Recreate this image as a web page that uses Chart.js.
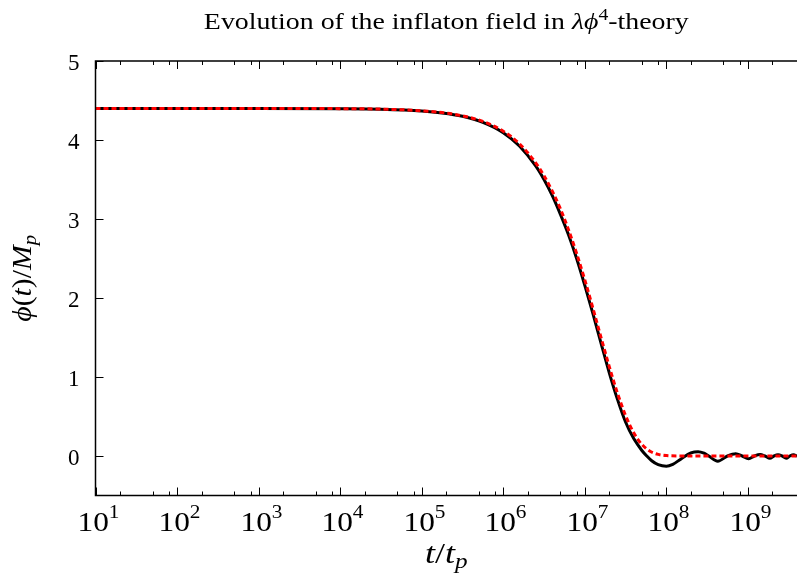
<!DOCTYPE html>
<html>
<head>
<meta charset="utf-8">
<title>Evolution of the inflaton field</title>
<script src="https://cdn.jsdelivr.net/npm/chart.js@4"></script>
<style>
  body { margin: 0; background: #fff; }
  canvas { display: block; }
</style>
</head>
<body>
<canvas id="inflatonChart" width="798" height="574"></canvas>
<script>
// DATA
const tNumeric = [1e1, 1e2, 1e3, 1e4, 3.16e4, 1e5, 1.78e5, 3.16e5, 5.62e5, 1e6, 1.58e6, 2.51e6, 3.16e6, 3.98e6, 5.01e6, 6.31e6, 7.94e6, 1e7, 1.26e7, 1.58e7, 2.0e7, 2.51e7, 3.16e7, 3.98e7, 5.01e7, 5.75e7, 6.61e7, 7.94e7, 1e8, 1.2e8, 1.5e8, 2.0e8, 2.45e8, 2.9e8, 3.31e8, 4.27e8, 5.62e8, 7.08e8, 8.51e8, 1.02e9, 1.2e9, 1.41e9, 1.62e9, 1.86e9, 2.09e9, 2.34e9, 2.63e9, 2.95e9, 3.27e9, 3.63e9, 4.0e9];
const phiNumeric = [4.40, 4.40, 4.40, 4.397, 4.390, 4.368, 4.343, 4.300, 4.224, 4.093, 3.924, 3.668, 3.499, 3.298, 3.061, 2.80, 2.50, 2.16, 1.80, 1.43, 1.05, 0.72, 0.43, 0.22, 0.07, 0.0, -0.06, -0.11, -0.13, -0.105, -0.04, 0.039, 0.055, 0.035, 0.0, -0.066, 0.0, 0.028, 0.0, -0.035, 0.0, 0.02, 0.0, -0.03, 0.0, 0.015, 0.0, -0.028, 0.0, 0.015, 0.0];

const tApprox = [1e1, 1e2, 1e3, 1e4, 3.16e4, 1e5, 1.78e5, 3.16e5, 5.62e5, 1e6, 1.58e6, 2.51e6, 3.16e6, 3.98e6, 5.01e6, 6.31e6, 7.94e6, 1e7, 1.26e7, 1.58e7, 2.0e7, 2.51e7, 3.16e7, 3.98e7, 5.01e7, 6.31e7, 7.94e7, 1e8, 1.58e8, 4.0e9];
const phiApprox = [4.40, 4.40, 4.40, 4.397, 4.391, 4.370, 4.347, 4.306, 4.235, 4.111, 3.952, 3.708, 3.548, 3.355, 3.131, 2.864, 2.564, 2.229, 1.867, 1.502, 1.128, 0.798, 0.513, 0.294, 0.146, 0.060, 0.020, 0.005, 0.0, 0.0];

const xMajorExp = [1, 2, 3, 4, 5, 6, 7, 8, 9];
const xMinorMult = [2, 5, 8];
const yTicks = [0, 1, 2, 3, 4, 5];

const SERIF = "'Liberation Serif', 'DejaVu Serif', serif";

function toPoints(xs, ys) { return xs.map((x, i) => ({ x: x, y: ys[i] })); }

// draw a line of mixed text pieces {t, f, dy}, stretched by sx
function drawRich(ctx, parts, x, y, align, sx) {
    sx = sx || 1;
    let w = 0;
    parts.forEach(p => { ctx.font = p.f; p.w = ctx.measureText(p.t).width; w += p.w; });
    const start = align === 'right' ? -w : (align === 'left' ? 0 : -w / 2);
    ctx.save();
    ctx.translate(x, y);
    ctx.scale(sx, 1);
    ctx.textAlign = 'left';
    ctx.textBaseline = 'alphabetic';
    let cx = start;
    parts.forEach(p => { ctx.font = p.f; ctx.fillText(p.t, cx, p.dy || 0); cx += p.w; });
    ctx.restore();
}

// gnuplot style frame, inward ticks and labels
const gnuplotFrame = {
    id: 'gnuplotFrame',
    afterDatasetsDraw(chart) {
        const ctx = chart.ctx, a = chart.chartArea;
        const xs = chart.scales.x, ys = chart.scales.y;
        ctx.save();
        ctx.strokeStyle = '#000';
        ctx.fillStyle = '#000';
        ctx.lineWidth = 1.5;

        // border: left, top, bottom
        ctx.beginPath();
        ctx.moveTo(a.right, a.top); ctx.lineTo(a.left, a.top);
        ctx.lineTo(a.left, a.bottom); ctx.lineTo(a.right, a.bottom);
        ctx.stroke();

        ctx.lineWidth = 1;
        // x ticks
        xMajorExp.forEach(e => {
            const px = Math.round(xs.getPixelForValue(Math.pow(10, e))) + 0.5;
            ctx.beginPath();
            ctx.moveTo(px, a.bottom); ctx.lineTo(px, a.bottom - 8);
            ctx.moveTo(px, a.top); ctx.lineTo(px, a.top + 8);
            ctx.stroke();
            xMinorMult.forEach(m => {
                const v = m * Math.pow(10, e);
                if (v > xs.max) return;
                const qx = Math.round(xs.getPixelForValue(v)) + 0.5;
                ctx.beginPath();
                ctx.moveTo(qx, a.bottom); ctx.lineTo(qx, a.bottom - 4);
                ctx.moveTo(qx, a.top); ctx.lineTo(qx, a.top + 4);
                ctx.stroke();
            });
            // label 10^e
            drawRich(ctx, [
                { t: '10', f: '28px ' + SERIF },
                { t: String(e), f: '19px ' + SERIF, dy: -13 }
            ], px + 2, a.bottom + 35, 'center', 1.12);
        });

        // y ticks
        yTicks.forEach(v => {
            const py = Math.round(ys.getPixelForValue(v)) + 0.5;
            ctx.beginPath();
            ctx.moveTo(a.left, py); ctx.lineTo(a.left + 8, py);
            ctx.stroke();
            ctx.font = '23px ' + SERIF;
            ctx.textAlign = 'right';
            ctx.textBaseline = 'alphabetic';
            ctx.fillText(String(v), a.left - 16, py + 8);
        });

        // title
        const cx = (a.left + a.right) / 2;
        drawRich(ctx, [
            { t: 'Evolution of the inflaton field in ', f: '24px ' + SERIF },
            { t: 'λϕ', f: 'italic 24px ' + SERIF },
            { t: '4', f: '17px ' + SERIF, dy: -9 },
            { t: '-theory', f: '24px ' + SERIF }
        ], cx, 29, 'center', 1.16);

        // x axis title t/t_p
        drawRich(ctx, [
            { t: 't', f: 'italic 30px ' + SERIF },
            { t: '/', f: '30px ' + SERIF },
            { t: 't', f: 'italic 30px ' + SERIF },
            { t: 'p', f: 'italic 21px ' + SERIF, dy: 5 }
        ], cx, 563, 'center', 1.2);

        // y axis title phi(t)/M_p
        ctx.translate(31, (a.top + a.bottom) / 2);
        ctx.rotate(-Math.PI / 2);
        drawRich(ctx, [
            { t: 'ϕ', f: 'italic 27px ' + SERIF },
            { t: '(', f: '27px ' + SERIF },
            { t: 't', f: 'italic 27px ' + SERIF },
            { t: ')/', f: '27px ' + SERIF },
            { t: 'M', f: 'italic 27px ' + SERIF },
            { t: 'p', f: 'italic 19px ' + SERIF, dy: 5 }
        ], 0, 0, 'center', 1.1);
        ctx.restore();
    }
};

const ctx = document.getElementById('inflatonChart').getContext('2d');
const inflatonChart = new Chart(ctx, {
    type: 'line',
    data: {
        datasets: [
            { label: 'approx', data: toPoints(tApprox, phiApprox), borderColor: '#ff0000', borderWidth: 3, borderDash: [5, 3], pointRadius: 0, cubicInterpolationMode: 'monotone', fill: false },
            { label: 'numeric', data: toPoints(tNumeric, phiNumeric), borderColor: '#000000', borderWidth: 3, pointRadius: 0, cubicInterpolationMode: 'monotone', fill: false }
        ]
    },
    options: {
        responsive: false,
        animation: false,
        events: [],
        layout: { padding: { top: 61, right: 1, left: 0, bottom: 0 } },
        plugins: { legend: { display: false }, title: { display: false }, tooltip: { enabled: false } },
        scales: {
            x: {
                type: 'logarithmic', min: 10, max: 4e9,
                ticks: { display: false }, grid: { display: false }, border: { display: false },
                afterFit: s => { s.height = 78.5; }
            },
            y: {
                type: 'linear', min: -0.5, max: 5,
                ticks: { display: false }, grid: { display: false }, border: { display: false },
                afterFit: s => { s.width = 95.5; }
            }
        }
    },
    plugins: [gnuplotFrame]
});
</script>
</body>
</html>
